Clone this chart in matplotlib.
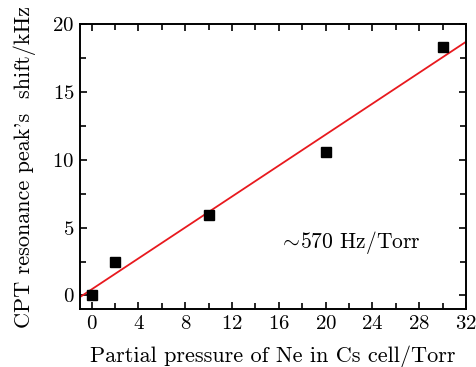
import matplotlib
matplotlib.use("Agg")
import matplotlib.pyplot as plt
import numpy as np
from matplotlib.ticker import MultipleLocator

plt.rcParams["font.family"] = "serif"
plt.rcParams["font.serif"] = ["cmr10"]
plt.rcParams["mathtext.fontset"] = "cm"
plt.rcParams["axes.formatter.use_mathtext"] = True

# measured shifts
pressure = [0, 2, 10, 20, 30]          # Torr
shift = [0.0, 2.5, 5.9, 10.6, 18.3]    # kHz

# linear fit
fit_slope = 0.57
fit_intercept = 0.45
fit_x = np.array([-1, 32])

fig = plt.figure(figsize=(4.76, 3.67), dpi=100)
ax = fig.add_axes([80 / 476, 58 / 367, 386 / 476, 285 / 367])

ax.plot(fit_x, fit_slope * fit_x + fit_intercept, color="#e8191e", lw=1.3, zorder=2)
ax.plot(pressure, shift, "s", color="black", ms=7.5, zorder=3)

ax.set_xlim(-1, 32)
ax.set_ylim(-1, 20)
ax.xaxis.set_major_locator(MultipleLocator(4))
ax.xaxis.set_minor_locator(MultipleLocator(2))
ax.yaxis.set_major_locator(MultipleLocator(5))
ax.yaxis.set_minor_locator(MultipleLocator(2.5))
ax.tick_params(which="both", direction="in", top=True, right=True, width=1.2)
ax.tick_params(which="major", length=5, labelsize=15, pad=4)
ax.tick_params(which="minor", length=4)
for sp in ax.spines.values():
    sp.set_linewidth(1.4)

ax.text(16.0, 3.9, r"$\sim\!$570 Hz/Torr", fontsize=15.5, va="center")
ax.set_xlabel("Partial pressure of Ne in Cs cell/Torr", fontsize=16, labelpad=9)
ax.set_ylabel("CPT resonance peak's  shift/kHz", fontsize=16, labelpad=12)

fig.savefig("out.png", dpi=100)
